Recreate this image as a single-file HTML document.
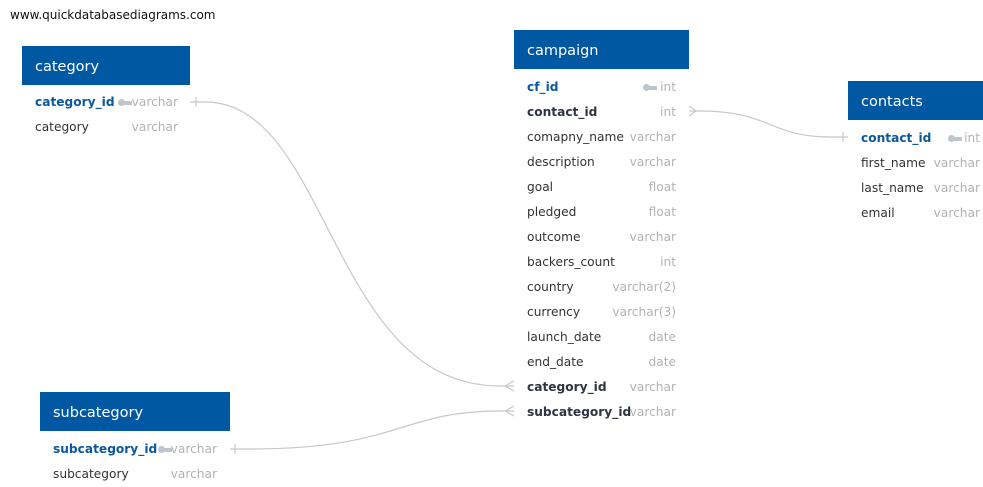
<!DOCTYPE html>
<html><head><meta charset="utf-8"><style>
body{margin:0;width:983px;height:482px;background:#fff;position:relative;overflow:hidden;font-family:"DejaVu Sans","Liberation Sans",sans-serif}
.t{position:absolute}
.h{position:absolute;left:0;right:0;top:0;height:39px;background:#0058a3;color:#fff;font-size:14.5px;line-height:42px;padding-left:13px;box-sizing:border-box}
.r{position:absolute;left:13px;height:25px;line-height:25px;font-size:12.2px;color:#333;white-space:nowrap;margin-top:1px}
.r.pk{color:#0a58a0;font-weight:bold}.r.fk{font-weight:bold;color:#2e3440}
.ty{position:absolute;height:25px;line-height:25px;font-size:12.2px;color:#b3b3b3;text-align:right;white-space:nowrap;margin-top:1px}
.k{position:absolute;width:15px;height:8px;margin-top:1px}
.k::before{content:"";position:absolute;left:0;top:0;width:7px;height:7px;border-radius:50%;background:#c0c4cc}
.k::after{content:"";position:absolute;left:5px;top:2px;width:9px;height:4px;background:#c0c4cc}
svg{position:absolute;left:0;top:0}
</style></head><body>
<div class="t" style="left:10px;top:8px;font-size:12px;color:#111">www.quickdatabasediagrams.com</div>
<svg width="983" height="482" fill="none" stroke="#c8c8c8" stroke-width="1.2">
<path d="M190 102 H205 C330 102 330 386 500 386 H514"/>
<path d="M196 97 v10 M505 386 L514 381 M505 386 L514 391"/>
<path d="M230 449 H250 C400 449 400 411 500 411 H514"/>
<path d="M235 444 v10 M505 411 L514 406 M505 411 L514 416"/>
<path d="M689 111 H700 C770 111 770 137 830 137 H848"/>
<path d="M689 106 L696 111 L689 116 M843 132 v10"/>
</svg>

<div class="t" style="left:22px;top:46px;width:168px;height:95px">
<div class="h">category</div>
<div class="r pk" style="top:43px">category_id</div><span class="k" style="left:96px;top:52px"></span><div class="ty" style="right:12px;top:43px">varchar</div>
<div class="r" style="top:68px">category</div><div class="ty" style="right:12px;top:68px">varchar</div>
</div>

<div class="t" style="left:40px;top:392px;width:190px;height:95px">
<div class="h">subcategory</div>
<div class="r pk" style="top:44px">subcategory_id</div><span class="k" style="left:118px;top:53px"></span><div class="ty" style="right:13px;top:44px">varchar</div>
<div class="r" style="top:69px">subcategory</div><div class="ty" style="right:13px;top:69px">varchar</div>
</div>

<div class="t" style="left:848px;top:81px;width:135px;height:150px">
<div class="h">contacts</div>
<div class="r pk" style="top:44px">contact_id</div><span class="k" style="left:100px;top:53px"></span><div class="ty" style="right:3px;top:44px">int</div>
<div class="r" style="top:69px">first_name</div><div class="ty" style="right:3px;top:69px">varchar</div>
<div class="r" style="top:94px">last_name</div><div class="ty" style="right:3px;top:94px">varchar</div>
<div class="r" style="top:119px">email</div><div class="ty" style="right:3px;top:119px">varchar</div>
</div>

<div class="t" style="left:514px;top:30px;width:175px;height:400px">
<div class="h">campaign</div>
<div class="r pk" style="top:44px">cf_id</div><span class="k" style="left:129px;top:53px"></span><div class="ty" style="right:13px;top:44px">int</div>
<div class="r fk" style="top:69px">contact_id</div><div class="ty" style="right:13px;top:69px">int</div>
<div class="r" style="top:94px">comapny_name</div><div class="ty" style="right:13px;top:94px">varchar</div>
<div class="r" style="top:119px">description</div><div class="ty" style="right:13px;top:119px">varchar</div>
<div class="r" style="top:144px">goal</div><div class="ty" style="right:13px;top:144px">float</div>
<div class="r" style="top:169px">pledged</div><div class="ty" style="right:13px;top:169px">float</div>
<div class="r" style="top:194px">outcome</div><div class="ty" style="right:13px;top:194px">varchar</div>
<div class="r" style="top:219px">backers_count</div><div class="ty" style="right:13px;top:219px">int</div>
<div class="r" style="top:244px">country</div><div class="ty" style="right:13px;top:244px">varchar(2)</div>
<div class="r" style="top:269px">currency</div><div class="ty" style="right:13px;top:269px">varchar(3)</div>
<div class="r" style="top:294px">launch_date</div><div class="ty" style="right:13px;top:294px">date</div>
<div class="r" style="top:319px">end_date</div><div class="ty" style="right:13px;top:319px">date</div>
<div class="r fk" style="top:344px">category_id</div><div class="ty" style="right:13px;top:344px">varchar</div>
<div class="r fk" style="top:369px">subcategory_id</div><div class="ty" style="right:13px;top:369px">varchar</div>
</div>
</body></html>
